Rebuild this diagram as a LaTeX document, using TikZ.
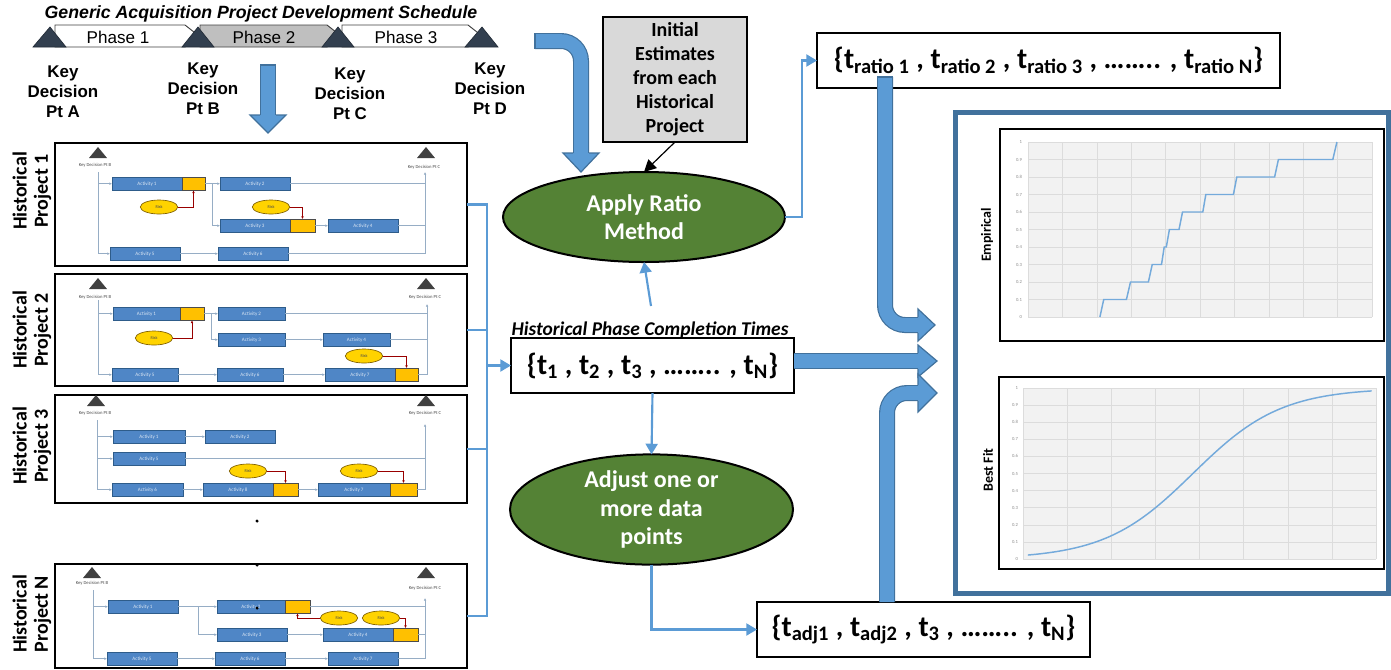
\documentclass[tikz,border=0pt]{standalone}
\usepackage{fontspec}
\setmainfont{Carlito}
\newfontfamily\arial{Liberation Sans}
\usetikzlibrary{shapes.geometric,arrows.meta,calc}
\definecolor{navy}{HTML}{323F4F}
\definecolor{ablue}{HTML}{5B9BD5}
\definecolor{aborder}{HTML}{41719C}
\definecolor{dgreen}{HTML}{548235}
\definecolor{lgray}{HTML}{D9D9D9}
\definecolor{mgray}{HTML}{BFBFBF}
\definecolor{actfill}{HTML}{4F86C6}
\definecolor{actdraw}{HTML}{2E5C8A}
\definecolor{riskyel}{HTML}{FFC000}
\definecolor{chartbg}{HTML}{F2F2F2}
\definecolor{gridc}{HTML}{DCDCDC}
\definecolor{framec}{HTML}{41719C}
\newcommand\fs[2]{\fontsize{#1}{#2}\selectfont}
\newcommand\actv[4]{\node[actbox, minimum width={#4*0.75pt}] (#1) at (#2) {#3};}
\newcommand\yel[3]{\node[yelbox, minimum width={#3*0.75pt}] (#1) at (#2.north east) {};}
\newcommand\kdtri[2]{\fill[black!75] (#1-9,#2+11) -- (#1,#2) -- (#1+9,#2+11) -- cycle;}
\begin{document}
\begin{tikzpicture}[x=0.75pt,y=-0.75pt,
  every node/.style={inner sep=0pt, outer sep=0pt},
  bigtri/.style={fill=navy, draw=navy!70!black, line width=0.5pt},
  phase/.style={draw=black!75, line width=0.7pt},
  kdlab/.style={font=\arial\bfseries\fs{12.7}{15}, align=center},
  bigshaft/.style={draw=aborder, line width=0.9pt, double=ablue, double distance=10.2pt},
  bighead/.style={fill=ablue, draw=aborder, line width=0.9pt, line join=miter},
  thinblue/.style={draw=ablue, line width=1.6pt},
  tb/.style={-{Triangle[length=8pt,width=9pt]}},
  greenell/.style={ellipse, fill=dgreen, draw=black, line width=1.5pt, text=white, font=\bfseries\fs{18}{21.5}, align=center},
  setbox/.style={draw=black, line width=1.1pt, fill=white, font=\bfseries\fs{22}{26}},
  initbox/.style={draw=black, line width=2pt, fill=lgray, font=\bfseries\fs{15}{18}, align=center},
  projbox/.style={draw=black, line width=1.5pt, fill=white, anchor=north west},
  histlab/.style={font=\bfseries\fs{15}{16}, align=center, rotate=90},
  actbox/.style={fill=actfill, draw=actdraw, line width=0.5pt, anchor=north west, minimum height=10pt, text=white!80!actfill, font=\fs{3.8}{4}},
  yelbox/.style={fill=riskyel, draw=black!70, line width=0.4pt, anchor=north west, minimum height=10pt},
  riskell/.style={ellipse, fill=riskyel!70!yellow, draw=black!50!riskyel, line width=0.5pt, minimum width=28pt, minimum height=10.5pt, font=\fs{3.2}{3.5}, text=black!70},
  mini/.style={draw=actdraw!50, line width=0.4pt},
  mia/.style={mini, -{Latex[length=2pt,width=2pt]}},
  riskln/.style={draw=red!60!black, line width=0.4pt, -{Latex[length=2pt,width=2pt]}},
  kdsmall/.style={font=\fs{3.5}{4}, text=black!70},
  chart/.style={draw=black, line width=1.5pt, fill=white, anchor=north west},
  gridln/.style={draw=gridc, line width=0.4pt},
  ticklab/.style={font=\fs{3.5}{4}, text=black!45, anchor=east},
  curve/.style={draw=ablue!85!white, line width=1.1pt}]
\useasboundingbox (0,0) rectangle (1391,669);

% ---------- schedule ----------
\node[font=\arial\bfseries\itshape\fs{13.3}{15}] (title) at (261,14) {Generic Acquisition Project Development Schedule};
\filldraw[phase, fill=white] (55,25) -- (185,25) -- (199,36) -- (185,47) -- (55,47) -- cycle;
\filldraw[phase, fill=mgray] (200,25) -- (327,25) -- (341,36) -- (327,47) -- (200,47) -- cycle;
\filldraw[phase, fill=white] (342,25) -- (468,25) -- (482,36) -- (468,47) -- (342,47) -- cycle;
\node[font=\arial\fs{12.8}{14}] (ph1) at (118,37) {Phase 1};
\node[font=\arial\fs{12.8}{14}] (ph2) at (264,37) {Phase 2};
\node[font=\arial\fs{12.8}{14}] (ph3) at (406,37) {Phase 3};
\filldraw[bigtri] (33,47) -- (50,27) -- (66,47) -- cycle;
\filldraw[bigtri] (182,47) -- (198,27) -- (214,47) -- cycle;
\filldraw[bigtri] (322,47) -- (338,27) -- (354,47) -- cycle;
\filldraw[bigtri] (465,47) -- (482,27) -- (498,47) -- cycle;
\node[kdlab] (kda) at (63,92) {Key\\Decision\\Pt A};
\node[kdlab] (kdb) at (203,89) {Key\\Decision\\Pt B};
\node[kdlab] (kdc) at (350,94) {Key\\Decision\\Pt C};
\node[kdlab] (kdd) at (490,89) {Key\\Decision\\Pt D};
% down arrow under phase 2
\draw[bigshaft] (268,65) -- (268,115);
\draw[aborder, line width=0.9pt] (260,65) -- (276,65);
\filldraw[bighead] (260,115) -- (250,115) -- (268,133) -- (286,115) -- (276,115);

% ---------- historical project 1 ----------
\node[projbox, minimum width=309pt, minimum height=92.25pt] (p1) at (55,143) {};
\node[histlab] (p1lbl) at (32,191) {Historical\\Project 1};
\kdtri{98}{147} \kdtri{426}{147}
\node[kdsmall] (p1kb) at (95,165) {Key Decision Pt B};
\node[kdsmall] (p1kc) at (424,167) {Key Decision Pt C};
\actv{p1a1}{112,177}{Activity 1}{70} \yel{p1y1}{p1a1}{23}
\actv{p1a2}{220,177}{Activity 2}{70}
\actv{p1a3}{220,219}{Activity 3}{70} \yel{p1y3}{p1a3}{25}
\actv{p1a4}{328,219}{Activity 4}{70}
\actv{p1a5}{110,247}{Activity 5}{70}
\actv{p1a6}{218,247}{Activity 6}{70}
\node[riskell] (p1r1) at (159,207) {Risk};
\node[riskell] (p1r2) at (271,207) {Risk};
\coordinate (p1L) at (98,172); \coordinate (p1R) at (425,172);
\draw[mini] (p1L) -- (p1L |- p1a5.west);
\draw[mia] (p1L |- p1a5.west) -- (p1a5.west);
\draw[mia] (p1L |- p1a1.west) -- (p1a1.west);
\draw[mia] (p1y1.east) -- (p1a2.west);
\draw[mia] (p1y1.east) -- ++(7,0) |- (p1a3.west);
\draw[mia] (p1y3.east) -- (p1a4.west);
\draw[mia] (p1a5.east) -- (p1a6.west);
\draw[mini] (p1a2.east) -- (p1R |- p1a2.east);
\draw[mini] (p1a4.east) -- (p1R |- p1a4.east);
\draw[mini] (p1a6.east) -- (p1R |- p1a6.east);
\draw[mia] (p1R |- p1a6.east) -- (p1R);
\draw[riskln] (p1r1.east) -| (p1y1.south);
\draw[riskln] (p1r2.east) -| (p1y3.north);

% ---------- historical project 2 ----------
\node[projbox, minimum width=309pt, minimum height=84pt] (p2) at (55,274) {};
\node[histlab] (p2lbl) at (32,330) {Historical\\Project 2};
\kdtri{98}{278} \kdtri{426}{278}
\node[kdsmall] (p2kb) at (95,297) {Key Decision Pt B};
\node[kdsmall] (p2kc) at (425,297) {Key Decision Pt C};
\actv{p2a1}{113,307}{Activity 1}{67} \yel{p2y1}{p2a1}{24}
\actv{p2a2}{218,307}{Activity 2}{67}
\actv{p2a3}{218,333}{Activity 3}{67}
\actv{p2a4}{323,333}{Activity 4}{67}
\actv{p2a5}{112,368}{Activity 5}{66}
\actv{p2a6}{217,368}{Activity 6}{66}
\actv{p2a7}{325,368}{Activity 7}{70} \yel{p2y7}{p2a7}{23}
\node[riskell] (p2r1) at (154,338) {Risk};
\node[riskell] (p2r2) at (364,356) {Risk};
\coordinate (p2L) at (98,300); \coordinate (p2R) at (427,304);
\draw[mini] (p2L) -- (p2L |- p2a5.west);
\draw[mia] (p2L |- p2a5.west) -- (p2a5.west);
\draw[mia] (p2L |- p2a1.west) -- (p2a1.west);
\draw[mia] (p2y1.east) -- (p2a2.west);
\draw[mia] (p2y1.east) -- ++(7,0) |- (p2a3.west);
\draw[mia] (p2a3.east) -- (p2a4.west);
\draw[mia] (p2a5.east) -- (p2a6.west);
\draw[mia] (p2a6.east) -- (p2a7.west);
\draw[mini] (p2a2.east) -- (p2R |- p2a2.east);
\draw[mini] (p2a4.east) -- (p2R |- p2a4.east);
\draw[mini] (p2y7.east) -- (p2R |- p2y7.east);
\draw[mia] (p2R |- p2y7.east) -- (p2R);
\draw[riskln] (p2r1.east) -| (p2y1.south);
\draw[riskln] (p2r2.east) -| (p2y7.north);

% ---------- historical project 3 ----------
\node[projbox, minimum width=309pt, minimum height=81pt] (p3) at (55,395) {};
\node[histlab] (p3lbl) at (32,446) {Historical\\Project 3};
\kdtri{96}{395} \kdtri{426}{395}
\node[kdsmall] (p3kb) at (95,413) {Key Decision Pt B};
\node[kdsmall] (p3kc) at (425,413) {Key Decision Pt C};
\actv{p3a1}{113,430}{Activity 1}{72}
\actv{p3a2}{205,430}{Activity 2}{70}
\actv{p3a5}{113,452}{Activity 5}{72}
\actv{p3a6}{112,483}{Activity 6}{71}
\actv{p3a8}{203,483}{Activity 8}{70} \yel{p3y8}{p3a8}{25}
\actv{p3a7}{318,483}{Activity 7}{72} \yel{p3y7}{p3a7}{27}
\node[riskell] (p3r1) at (248,471) {Risk};
\node[riskell] (p3r2) at (359,471) {Risk};
\coordinate (p3L) at (97,420); \coordinate (p3R) at (425,424);
\draw[mini] (p3L) -- (p3L |- p3a6.west);
\draw[mia] (p3L |- p3a6.west) -- (p3a6.west);
\draw[mia] (p3L |- p3a1.west) -- (p3a1.west);
\draw[mia] (p3L |- p3a5.west) -- (p3a5.west);
\draw[mia] (p3a1.east) -- (p3a2.west);
\draw[mia] (p3a6.east) -- (p3a8.west);
\draw[mia] (p3y8.east) -- (p3a7.west);
\draw[mini] (p3a5.east) -- (p3R |- p3a5.east);
\draw[mini] (p3y7.east) -- (p3R |- p3y7.east);
\draw[mia] (p3R |- p3y7.east) -- (p3R);
\draw[riskln] (p3r1.east) -| (p3y8.north);
\draw[riskln] (p3r2.east) -| (p3y7.north);

% ---------- historical project N ----------
\node[projbox, minimum width=309pt, minimum height=78pt] (pN) at (55,564) {};
\node[histlab] (pNlbl) at (32,614) {Historical\\Project N};
\kdtri{92}{567} \kdtri{426}{567}
\node[kdsmall] (pNkb) at (92,583) {Key Decision Pt B};
\node[kdsmall] (pNkc) at (425,588) {Key Decision Pt C};
\actv{pNa1}{108,600}{Activity 1}{70}
\actv{pNa2}{217,600}{Activity 2}{68} \yel{pNy2}{pNa2}{25}
\actv{pNa3}{217,628}{Activity 3}{70}
\actv{pNa4}{323,628}{Activity 4}{70} \yel{pNy4}{pNa4}{25}
\actv{pNa5}{107,652}{Activity 5}{70}
\actv{pNa6}{215,652}{Activity 6}{70}
\actv{pNa7}{328,652}{Activity 7}{70}
\node[riskell] (pNr1) at (339,618) {Risk};
\node[riskell] (pNr2) at (381,618) {Risk};
\coordinate (pNL) at (93,590); \coordinate (pNR) at (425,598);
\draw[mini] (pNL) -- (pNL |- pNa5.west);
\draw[mia] (pNL |- pNa5.west) -- (pNa5.west);
\draw[mia] (pNL |- pNa1.west) -- (pNa1.west);
\draw[mia] (pNa1.east) -- (pNa2.west);
\draw[mia] (pNa1.east) -- ++(20,0) |- (pNa3.west);
\draw[mia] (pNa3.east) -- (pNa4.west);
\draw[mia] (pNa5.east) -- (pNa6.west);
\draw[mia] (pNa6.east) -- (pNa7.west);
\draw[mini] (pNy2.east) -- (pNR |- pNy2.east);
\draw[mini] (pNy4.east) -- (pNR |- pNy4.east);
\draw[mini] (pNa7.east) -- (pNR |- pNa7.east);
\draw[mia] (pNR |- pNa7.east) -- (pNR);
\draw[riskln] (pNr1.west) -| (pNy2.south);
\draw[riskln] (pNr2.east) -| (pNy4.north);

% vertical ellipsis dots
\fill (257,521) circle (1.3pt);
\fill (257,565) circle (1.3pt);
\fill (257,608) circle (1.3pt);

% ---------- centre column ----------
\node[initbox, minimum width=108pt, minimum height=93.75pt] (init) at (675,79.5) {Initial\\Estimates\\from each\\Historical\\Project};
\node[greenell, minimum width=211.5pt, minimum height=67.5pt] (ratio) at (644,217) {Apply Ratio\\Method};
\node[setbox, minimum width=212.25pt, minimum height=41.25pt] (tset) at (652.5,365.5)
  {\{t\textsubscript{1} , t\textsubscript{2} , t\textsubscript{3} , …….. , t\textsubscript{N}\}};
\node[font=\bfseries\itshape\fs{14.6}{16}, anchor=base] (histlbl) at (650,335) {Historical Phase Completion Times};
\node[greenell, minimum width=212.25pt, minimum height=66.75pt] (adj) at (651.5,509.5) {Adjust one or\\more data\\points};
\node[setbox, minimum width=347.25pt, minimum height=41.25pt] (rset) at (1048.5,60.5)
  {\{t\textsubscript{ratio 1} , t\textsubscript{ratio 2} , t\textsubscript{ratio 3} , …….. , t\textsubscript{ratio N}\}};
\node[setbox, minimum width=249.75pt, minimum height=41.25pt] (aset) at (923.5,629.5)
  {\{t\textsubscript{adj1} , t\textsubscript{adj2} , t\textsubscript{3} , …….. , t\textsubscript{N}\}};

% connectors
\coordinate (brk) at (487,365.5);
\draw[thinblue] (p1.east) -- (p1.east -| brk) -- (pN.east -| brk) -- (pN.east);
\draw[thinblue] (p2.east) -- (p2.east -| brk);
\draw[thinblue] (p3.east) -- (p3.east -| brk);
\draw[thinblue, tb] (brk) -- (tset.west);
\draw[-{Triangle[length=9pt,width=9pt]}, line width=0.9pt] (init.south) -- (ratio.north);
\coordinate (rbend) at (802,217);
\draw[thinblue, tb] (ratio.east) -- (rbend) |- (rset.west);
\coordinate (hup) at (651,306);
\draw[thinblue, tb] (hup) -- (ratio.south);
\draw[thinblue, tb] (tset.south) -- (adj.north);
\draw[thinblue, tb] (adj.south) |- (aset.west);

% big arrow from schedule
\draw[bigshaft, rounded corners=15pt] (535,41) -- (581,41) -- (581,153);
\draw[aborder, line width=0.9pt] (535,33) -- (535,49);
\filldraw[bighead] (573,153) -- (563,153) -- (581,172) -- (599,153) -- (589,153);

% ---------- right frame and charts ----------
\node[draw=framec, line width=3.75pt, anchor=north west, minimum width=324.75pt, minimum height=360.75pt] (frame) at (955,112) {};
\node[chart, minimum width=288pt, minimum height=159pt] (emp) at (1000,129) {};
\fill[chartbg] (1028,142) rectangle (1372,317);
\foreach \i in {0,...,10} {
  \draw[gridln] (1028,{317-17.5*\i}) -- (1372,{317-17.5*\i});
  \draw[gridln] ({1028+34.4*\i},142) -- ({1028+34.4*\i},317);
}
\foreach \v/\l in {0/0,1/0.1,2/0.2,3/0.3,4/0.4,5/0.5,6/0.6,7/0.7,8/0.8,9/0.9,10/1}
  \node[ticklab] (et\v) at (1022,{317-17.5*\v}) {\l};
\draw[curve] plot coordinates {(1099.9,317) (1103.7,299.5) (1126.4,299.5) (1130.5,282) (1148.4,282) (1152.2,264.5) (1161.5,264.5) (1164.2,247) (1166.3,247) (1169.4,229.5) (1179.0,229.5) (1182.5,212) (1202.8,212) (1205.8,194.5) (1233.4,194.5) (1236.8,177) (1274.6,177) (1278.4,159.5) (1332.8,159.5) (1336.9,142)};
\node[font=\bfseries\fs{10.5}{12}, rotate=90] (emplbl) at (987,235) {Empirical};

\node[chart, minimum width=288.75pt, minimum height=144pt] (bfit) at (999,377) {};
\fill[chartbg] (1023,388) rectangle (1376,559);
\foreach \i in {0,...,10}
  \draw[gridln] (1023,{559-17.1*\i}) -- (1376,{559-17.1*\i});
\foreach \i in {0,...,8}
  \draw[gridln] ({1023+44.125*\i},388) -- ({1023+44.125*\i},559);
\foreach \v/\l in {0/0,1/0.1,2/0.2,3/0.3,4/0.4,5/0.5,6/0.6,7/0.7,8/0.8,9/0.9,10/1}
  \node[ticklab] (bt\v) at (1018,{559-17.1*\v}) {\l};
\draw[curve] plot[domain=0.11:7.9, samples=70, smooth] ({1023+44.125*\x}, {559-171/(1+exp(-1.0*(\x-3.85)))});
\node[font=\bfseries\fs{10.5}{12}, rotate=90] (bflbl) at (988,470) {Best Fit};

% ---------- big block arrows on the right ----------
\draw[bigshaft, rounded corners=15pt] (885,77) -- (885,325) -- (918,325);
\draw[aborder, line width=0.9pt] (877,77) -- (893,77);
\filldraw[bighead] (918,317) -- (918,309) -- (935,325) -- (918,341) -- (918,333);

\coordinate (tsa) at ($(tset.east)+(0,-4.5)$);
\draw[bigshaft] (tsa) -- (918,361);
\filldraw[bighead] (918,353) -- (918,345) -- (937,361) -- (918,377) -- (918,369);

\draw[bigshaft, rounded corners=15pt] (aset.north -| 887,0) -- (887,393) -- (918,393);
\filldraw[bighead] (918,385) -- (918,374) -- (937,393) -- (918,412) -- (918,401);
\end{tikzpicture}
\end{document}
